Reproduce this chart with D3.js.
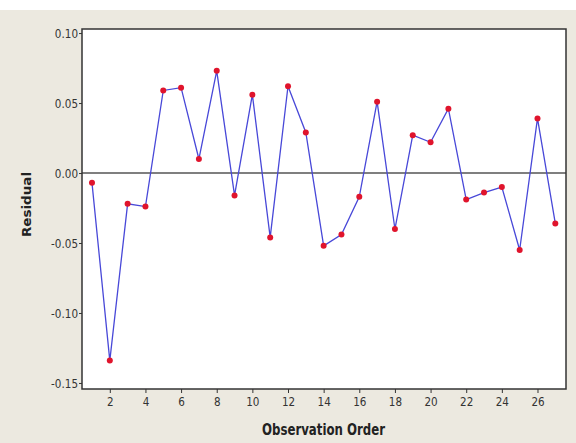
<!DOCTYPE html>
<html>
<head>
<meta charset="utf-8">
<script src="https://cdn.jsdelivr.net/npm/d3@7"></script>
<style>
  body { margin: 0; background: #fff; }
  svg { display: block; }
  .tick text { font-family: "DejaVu Sans", sans-serif; font-size: 13px; fill: #333; }
</style>
</head>
<body>
<div class="container"></div>
<script>
const width = 576;
const height = 443;
const margin = {top: 29, right: 10, bottom: 54, left: 82};
const font = '"DejaVu Sans", sans-serif';

// observation order and residuals
const order = d3.range(1, 28);
const residuals = [
    -0.007, -0.134, -0.022, -0.024, 0.059, 0.061, 0.010, 0.073, -0.016,
    0.056, -0.046, 0.062, 0.029, -0.052, -0.044, -0.017, 0.051, -0.040,
    0.027, 0.022, 0.046, -0.019, -0.014, -0.010, -0.055, 0.039, -0.036
];
const yTicks = [0.10, 0.05, 0.00, -0.05, -0.10, -0.15];
const xTicks = d3.range(2, 28, 2);

const data = order.map((d, i) => ({x: d, y: residuals[i]}));

const svg = d3.select('.container')
    .append('svg')
    .attr('width', width)
    .attr('height', height);

// beige window background
svg.append('rect')
    .attr('x', 0).attr('y', 10)
    .attr('width', width).attr('height', height - 10)
    .attr('fill', '#ece9e0');

const x = d3.scaleLinear().domain([0.44, 27.6]).range([margin.left, width - margin.right]);
const y = d3.scaleLinear().domain([-0.1543, 0.1029]).range([height - margin.bottom, margin.top]);

svg.append('rect')
    .attr('x', x.range()[0]).attr('y', margin.top)
    .attr('width', x.range()[1] - x.range()[0])
    .attr('height', y.range()[0] - y.range()[1])
    .attr('fill', '#fff');

const fmt = d => d3.format('.2f')(d).replace('\u2212', '-');
const yAxis = svg.append('g')
    .attr('transform', `translate(${margin.left},0)`)
    .call(d3.axisLeft(y).tickValues(yTicks).tickFormat(fmt).tickSize(3).tickPadding(2));
const xAxis = svg.append('g')
    .attr('transform', `translate(0,${height - margin.bottom})`)
    .call(d3.axisBottom(x).tickValues(xTicks).tickSize(4).tickPadding(4));
[yAxis, xAxis].forEach(a => {
    a.select('.domain').remove();
    a.selectAll('.tick line').attr('stroke', '#333');
    // squeeze labels horizontally, the original uses a narrow face
    a.selectAll('.tick text').attr('transform', 'scale(0.8,1)');
});

// zero reference line
svg.append('line')
    .attr('x1', x.range()[0]).attr('x2', x.range()[1])
    .attr('y1', y(0)).attr('y2', y(0))
    .attr('stroke', '#555').attr('stroke-width', 1.5);

const line = d3.line().x(d => x(d.x)).y(d => y(d.y));
svg.append('path')
    .datum(data)
    .attr('d', line)
    .attr('fill', 'none')
    .attr('stroke', '#4848d8')
    .attr('stroke-width', 1.3);

svg.selectAll('.pt')
    .data(data)
    .enter()
    .append('circle')
    .attr('class', 'pt')
    .attr('cx', d => x(d.x))
    .attr('cy', d => y(d.y))
    .attr('r', 3)
    .attr('fill', '#e0142c');

// frame
svg.append('rect')
    .attr('x', x.range()[0]).attr('y', margin.top)
    .attr('width', x.range()[1] - x.range()[0])
    .attr('height', y.range()[0] - y.range()[1])
    .attr('fill', 'none')
    .attr('stroke', '#333')
    .attr('stroke-width', 1.5);

svg.append('text')
    .attr('x', 262)
    .attr('y', 435)
    .attr('textLength', 123)
    .attr('lengthAdjust', 'spacingAndGlyphs')
    .attr('font-family', font)
    .attr('font-weight', 'bold')
    .attr('font-size', 16)
    .attr('fill', '#222')
    .text('Observation Order');

svg.append('text')
    .attr('transform', 'translate(31,237) rotate(-90)')
    .attr('textLength', 65)
    .attr('lengthAdjust', 'spacingAndGlyphs')
    .attr('font-family', font)
    .attr('font-weight', 'bold')
    .attr('font-size', 13)
    .attr('fill', '#222')
    .text('Residual');
</script>
</body>
</html>
